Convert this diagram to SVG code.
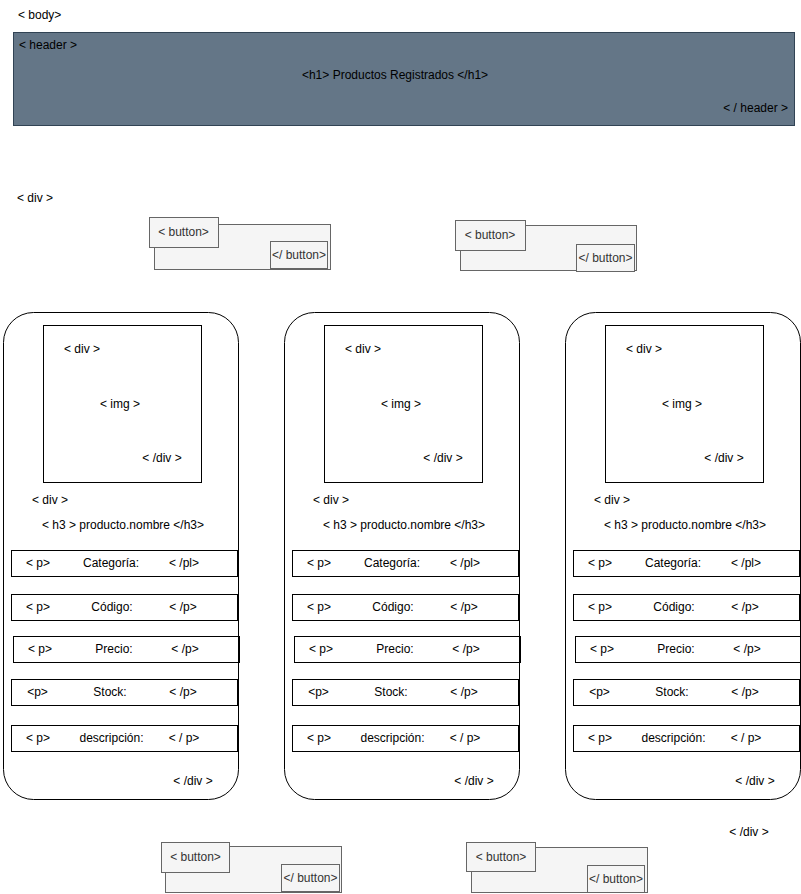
<svg xmlns="http://www.w3.org/2000/svg" width="801" height="894" viewBox="0 0 801 894">
<style>
text{font-family:"Liberation Sans",Arial,Helvetica,sans-serif;font-size:12px;fill:#000;dominant-baseline:central}
.c{text-anchor:middle}
.e{text-anchor:end}
.hdr{fill:#647687;stroke:#314354;stroke-width:1}
.card{fill:#fff;stroke:#000;stroke-width:1}
.box{fill:none;stroke:#000;stroke-width:1}
.btn{fill:#f5f5f5;stroke:#666;stroke-width:1}
.bt{fill:#333}
</style>
<rect width="801" height="894" fill="#fff"/>
<g id="body-label"><text x="18" y="15">&lt; body&gt;</text></g>
<g id="header">
<rect class="hdr" x="13.5" y="32.5" width="781" height="93"/>
<text x="19" y="45">&lt; header &gt;</text>
<text class="c" x="395" y="75">&lt;h1&gt; Productos Registrados &lt;/h1&gt;</text>
<text class="e" x="788" y="108">&lt; / header &gt;</text>
</g>
<g id="div-label"><text x="17" y="198">&lt; div &gt;</text></g>
<g id="button1">
<rect class="btn" x="154.5" y="224.5" width="176" height="45"/>
<rect class="btn" x="149.5" y="217.5" width="69" height="30"/>
<text class="c bt" x="183.5" y="232">&lt; button&gt;</text>
<rect class="btn" x="270.5" y="241.5" width="57" height="27"/>
<text class="c bt" x="299" y="255">&lt;/ button&gt;</text>
</g>
<g id="button2">
<rect class="btn" x="460.5" y="225.5" width="176" height="45"/>
<rect class="btn" x="455.5" y="220.5" width="70" height="30"/>
<text class="c bt" x="490" y="235">&lt; button&gt;</text>
<rect class="btn" x="576.5" y="244.5" width="58" height="27"/>
<text class="c bt" x="605.5" y="258">&lt;/ button&gt;</text>
</g>
<g id="card1">
<rect class="card" x="3.5" y="312.5" width="235" height="487" rx="30" ry="30"/>
<rect class="box" x="43.5" y="325.5" width="158" height="157"/>
<text x="64" y="349">&lt; div &gt;</text>
<text class="c" x="120" y="404">&lt; img &gt;</text>
<text class="c" x="162" y="458">&lt; /div &gt;</text>
<text x="32" y="500">&lt; div &gt;</text>
<text class="c" x="123" y="525">&lt; h3 &gt; producto.nombre &lt;/h3&gt;</text>
<rect class="box" x="11.5" y="550.5" width="226" height="26"/>
<text class="c" x="38" y="563">&lt; p&gt;</text><text class="c" x="111" y="563">Categoría:</text><text class="c" x="184" y="563">&lt; /pl&gt;</text>
<rect class="box" x="11.5" y="594.5" width="226" height="26"/>
<text class="c" x="38" y="607">&lt; p&gt;</text><text class="c" x="112" y="607">Código:</text><text class="c" x="183" y="607">&lt; /p&gt;</text>
<rect class="box" x="13.5" y="636.5" width="226" height="26"/>
<text class="c" x="40" y="649">&lt; p&gt;</text><text class="c" x="114" y="649">Precio:</text><text class="c" x="185" y="649">&lt; /p&gt;</text>
<rect class="box" x="11.5" y="679.5" width="226" height="26"/>
<text class="c" x="37.5" y="692">&lt;p&gt;</text><text class="c" x="110" y="692">Stock:</text><text class="c" x="183" y="692">&lt; /p&gt;</text>
<rect class="box" x="11.5" y="725.5" width="226" height="26"/>
<text class="c" x="38" y="738">&lt; p&gt;</text><text class="c" x="111.5" y="738">descripción:</text><text class="c" x="184" y="738">&lt; / p&gt;</text>
<text class="c" x="193" y="781">&lt; /div &gt;</text>
</g>
<g id="card2" transform="translate(281,0)">
<rect class="card" x="3.5" y="312.5" width="235" height="487" rx="30" ry="30"/>
<rect class="box" x="43.5" y="325.5" width="158" height="157"/>
<text x="64" y="349">&lt; div &gt;</text>
<text class="c" x="120" y="404">&lt; img &gt;</text>
<text class="c" x="162" y="458">&lt; /div &gt;</text>
<text x="32" y="500">&lt; div &gt;</text>
<text class="c" x="123" y="525">&lt; h3 &gt; producto.nombre &lt;/h3&gt;</text>
<rect class="box" x="11.5" y="550.5" width="226" height="26"/>
<text class="c" x="38" y="563">&lt; p&gt;</text><text class="c" x="111" y="563">Categoría:</text><text class="c" x="184" y="563">&lt; /pl&gt;</text>
<rect class="box" x="11.5" y="594.5" width="226" height="26"/>
<text class="c" x="38" y="607">&lt; p&gt;</text><text class="c" x="112" y="607">Código:</text><text class="c" x="183" y="607">&lt; /p&gt;</text>
<rect class="box" x="13.5" y="636.5" width="226" height="26"/>
<text class="c" x="40" y="649">&lt; p&gt;</text><text class="c" x="114" y="649">Precio:</text><text class="c" x="185" y="649">&lt; /p&gt;</text>
<rect class="box" x="11.5" y="679.5" width="226" height="26"/>
<text class="c" x="37.5" y="692">&lt;p&gt;</text><text class="c" x="110" y="692">Stock:</text><text class="c" x="183" y="692">&lt; /p&gt;</text>
<rect class="box" x="11.5" y="725.5" width="226" height="26"/>
<text class="c" x="38" y="738">&lt; p&gt;</text><text class="c" x="111.5" y="738">descripción:</text><text class="c" x="184" y="738">&lt; / p&gt;</text>
<text class="c" x="193" y="781">&lt; /div &gt;</text>
</g>
<g id="card3" transform="translate(562,0)">
<rect class="card" x="3.5" y="312.5" width="235" height="487" rx="30" ry="30"/>
<rect class="box" x="43.5" y="325.5" width="158" height="157"/>
<text x="64" y="349">&lt; div &gt;</text>
<text class="c" x="120" y="404">&lt; img &gt;</text>
<text class="c" x="162" y="458">&lt; /div &gt;</text>
<text x="32" y="500">&lt; div &gt;</text>
<text class="c" x="123" y="525">&lt; h3 &gt; producto.nombre &lt;/h3&gt;</text>
<rect class="box" x="11.5" y="550.5" width="226" height="26"/>
<text class="c" x="38" y="563">&lt; p&gt;</text><text class="c" x="111" y="563">Categoría:</text><text class="c" x="184" y="563">&lt; /pl&gt;</text>
<rect class="box" x="11.5" y="594.5" width="226" height="26"/>
<text class="c" x="38" y="607">&lt; p&gt;</text><text class="c" x="112" y="607">Código:</text><text class="c" x="183" y="607">&lt; /p&gt;</text>
<rect class="box" x="13.5" y="636.5" width="226" height="26"/>
<text class="c" x="40" y="649">&lt; p&gt;</text><text class="c" x="114" y="649">Precio:</text><text class="c" x="185" y="649">&lt; /p&gt;</text>
<rect class="box" x="11.5" y="679.5" width="226" height="26"/>
<text class="c" x="37.5" y="692">&lt;p&gt;</text><text class="c" x="110" y="692">Stock:</text><text class="c" x="183" y="692">&lt; /p&gt;</text>
<rect class="box" x="11.5" y="725.5" width="226" height="26"/>
<text class="c" x="38" y="738">&lt; p&gt;</text><text class="c" x="111.5" y="738">descripción:</text><text class="c" x="184" y="738">&lt; / p&gt;</text>
<text class="c" x="193" y="781">&lt; /div &gt;</text>
</g>
<g id="div-close"><text class="c" x="749" y="832">&lt; /div &gt;</text></g>
<g id="button3">
<rect class="btn" x="165.5" y="846.5" width="176" height="46"/>
<rect class="btn" x="161.5" y="842.5" width="68" height="30"/>
<text class="c bt" x="195.5" y="857">&lt; button&gt;</text>
<rect class="btn" x="281.5" y="864.5" width="58" height="27"/>
<text class="c bt" x="310.5" y="878">&lt;/ button&gt;</text>
</g>
<g id="button4">
<rect class="btn" x="471.5" y="847.5" width="176" height="45"/>
<rect class="btn" x="466.5" y="842.5" width="69" height="29"/>
<text class="c bt" x="501" y="857">&lt; button&gt;</text>
<rect class="btn" x="587.5" y="865.5" width="57" height="27"/>
<text class="c bt" x="616" y="879">&lt;/ button&gt;</text>
</g>
<g id="connectors"></g>
</svg>
